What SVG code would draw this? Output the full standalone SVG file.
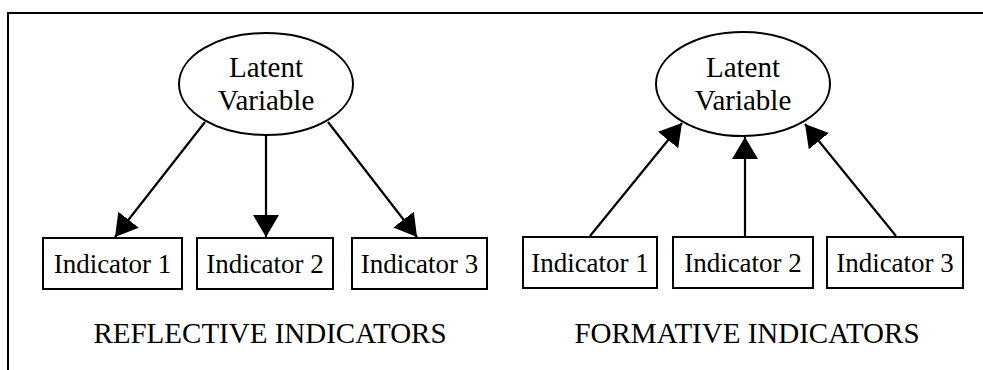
<svg xmlns="http://www.w3.org/2000/svg" width="983" height="370" viewBox="0 0 983 370">
  <style>
    .shape { fill: #fff; stroke: #000; stroke-width: 2; }
    .txt { font-family: "Liberation Serif", "Times New Roman", serif; fill: #000; text-anchor: middle; }
    .lbl { font-size: 27px; }
    .lv { font-size: 29px; }
    .cap { font-size: 29px; }
    .edge { stroke: #000; stroke-width: 2.2; fill: none; marker-end: url(#head); }
  </style>
  <defs>
    <marker id="head" markerUnits="userSpaceOnUse" markerWidth="24" markerHeight="28" refX="22" refY="13" orient="auto">
      <path d="M0,0 L22,13 L0,26 z" fill="#000"/>
    </marker>
  </defs>

  <rect width="983" height="370" fill="#fff"/>
  <!-- frame: top and left borders -->
  <path d="M8,370 V13 H983" fill="none" stroke="#000" stroke-width="2"/>

  <!-- reflective model -->
  <g id="lv-reflective">
    <ellipse class="shape" cx="266" cy="84" rx="87" ry="51"/>
    <text class="txt lv" x="266" y="77">Latent</text>
    <text class="txt lv" x="266" y="110">Variable</text>
  </g>
  <g id="r-ind1">
    <rect class="shape" x="43" y="238" width="139" height="51"/>
    <text class="txt lbl" x="112.5" y="273">Indicator 1</text>
  </g>
  <g id="r-ind2">
    <rect class="shape" x="197" y="238" width="136" height="51"/>
    <text class="txt lbl" x="265" y="273">Indicator 2</text>
  </g>
  <g id="r-ind3">
    <rect class="shape" x="352" y="238" width="135" height="51"/>
    <text class="txt lbl" x="419.5" y="273">Indicator 3</text>
  </g>

  <!-- formative model -->
  <g id="lv-formative">
    <ellipse class="shape" cx="743" cy="84" rx="87" ry="52"/>
    <text class="txt lv" x="743" y="77">Latent</text>
    <text class="txt lv" x="743" y="110">Variable</text>
  </g>
  <g id="f-ind1">
    <rect class="shape" x="523" y="237" width="134" height="51"/>
    <text class="txt lbl" x="590" y="272">Indicator 1</text>
  </g>
  <g id="f-ind2">
    <rect class="shape" x="673" y="237" width="140" height="51"/>
    <text class="txt lbl" x="743" y="272">Indicator 2</text>
  </g>
  <g id="f-ind3">
    <rect class="shape" x="827" y="237" width="136" height="51"/>
    <text class="txt lbl" x="895" y="272">Indicator 3</text>
  </g>

  <g id="connectors">
    <line class="edge" x1="205" y1="122" x2="115" y2="237"/>
    <line class="edge" x1="266" y1="135" x2="266" y2="237"/>
    <line class="edge" x1="328" y1="122" x2="417" y2="237"/>
    <line class="edge" x1="590" y1="236" x2="682" y2="123"/>
    <line class="edge" x1="745" y1="236" x2="745" y2="137"/>
    <line class="edge" x1="896" y1="236" x2="805" y2="124"/>
  </g>

  <g id="captions">
    <text class="txt cap" x="270" y="343">REFLECTIVE INDICATORS</text>
    <text class="txt cap" x="747" y="343">FORMATIVE INDICATORS</text>
  </g>
</svg>
